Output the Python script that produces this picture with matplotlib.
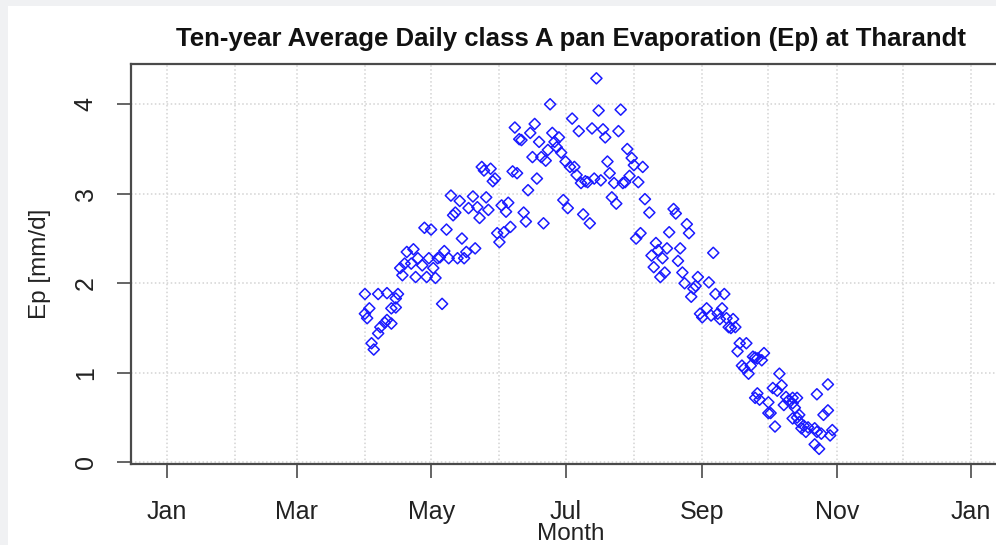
import numpy as np
import pandas as pd
import matplotlib
matplotlib.use("Agg")
import matplotlib.pyplot as plt
import matplotlib.dates as mdates
from matplotlib.patches import Rectangle

title = "Ten-year Average Daily class A pan Evaporation (Ep) at Tharandt"
x_label = "Month"
y_label = "Ep [mm/d]"
year_start = "2001-01-01"
y_ticks = [0, 1, 2, 3, 4]
x_tick_months = [1, 3, 5, 7, 9, 11]

# day of year (0 = 1 Jan) and ten-year average daily pan evaporation (mm/d)
day_of_year = [
    90, 90, 91, 92, 93, 94, 96, 96, 97, 99, 100, 100, 102, 102, 104, 104, 105,
    106, 107, 108, 109, 111, 112, 113, 114, 116, 117, 118, 119, 120, 121, 122,
    123, 124, 125, 126, 127, 128, 129, 130, 131, 132, 133, 134, 135, 136, 137,
    139, 140, 141, 142, 143, 144, 145, 146, 147, 148, 149, 150, 151, 152, 153,
    154, 155, 156, 157, 158, 159, 160, 161, 162, 163, 164, 165, 166, 167, 168,
    169, 170, 171, 172, 173, 174, 175, 176, 177, 178, 179, 180, 181, 182, 183,
    184, 185, 186, 187, 188, 189, 190, 191, 192, 193, 194, 195, 196, 197, 198,
    199, 200, 201, 202, 203, 204, 205, 206, 207, 208, 209, 210, 211, 212, 213,
    214, 215, 216, 217, 219, 220, 221, 222, 223, 224, 225, 226, 227, 228, 230,
    231, 232, 233, 234, 235, 236, 237, 238, 239, 240, 241, 242, 243, 245, 246,
    247, 248, 249, 250, 251, 252, 253, 254, 255, 256, 257, 258, 259, 260, 261,
    262, 263, 264, 265, 266, 267, 267, 268, 268, 269, 270, 271, 273, 273, 274,
    275, 276, 277, 278, 279, 280, 281, 282, 284, 284, 284, 285, 286, 286, 287,
    287, 288, 289, 290, 291, 294, 294, 295, 295, 296, 297, 298, 300, 300, 301,
    302,
]
ep_mm_per_day = [
    1.88, 1.66, 1.61, 1.72, 1.33, 1.26, 1.88, 1.44, 1.51, 1.56, 1.89, 1.59, 1.72, 1.55, 1.83, 1.73, 1.88,
    2.17, 2.09, 2.22, 2.35, 2.22, 2.38, 2.07, 2.28, 2.20, 2.62, 2.07, 2.28, 2.60, 2.17, 2.06,
    2.28, 2.29, 1.77, 2.36, 2.60, 2.28, 2.98, 2.76, 2.79, 2.28, 2.92, 2.50, 2.28, 2.35, 2.84,
    2.97, 2.39, 2.85, 2.73, 3.30, 3.26, 2.96, 2.82, 3.28, 3.14, 3.17, 2.56, 2.46, 2.87, 2.57,
    2.80, 2.90, 2.63, 3.25, 3.74, 3.23, 3.61, 3.60, 2.79, 2.69, 3.04, 3.68, 3.41, 3.78, 3.17,
    3.58, 3.41, 2.67, 3.37, 3.49, 4.00, 3.68, 3.58, 3.52, 3.63, 3.46, 2.93, 3.36, 2.84, 3.30,
    3.84, 3.30, 3.21, 3.70, 3.12, 2.77, 3.14, 3.13, 2.67, 3.73, 3.17, 4.29, 3.93, 3.15, 3.72,
    3.63, 3.36, 3.23, 2.96, 3.12, 2.89, 3.70, 3.94, 3.12, 3.13, 3.50, 3.20, 3.40, 3.32, 2.50,
    3.13, 2.56, 3.30, 2.94, 2.79, 2.31, 2.18, 2.45, 2.37, 2.07, 2.28, 2.12, 2.39, 2.57, 2.83,
    2.78, 2.25, 2.39, 2.12, 2.00, 2.66, 2.56, 1.85, 1.94, 1.97, 2.07, 1.66, 1.62, 1.72, 2.01,
    1.64, 2.34, 1.88, 1.66, 1.60, 1.72, 1.88, 1.61, 1.51, 1.50, 1.60, 1.51, 1.24, 1.33, 1.08,
    1.05, 1.33, 0.99, 1.08, 1.18, 0.72, 1.17, 0.77, 1.16, 0.70, 1.14, 1.22, 0.67, 0.55, 0.55,
    0.83, 0.40, 0.80, 0.99, 0.86, 0.64, 0.73, 0.69, 0.72, 0.49, 0.66, 0.61, 0.50, 0.72, 0.53,
    0.45, 0.38, 0.41, 0.34, 0.39, 0.38, 0.20, 0.76, 0.34, 0.15, 0.32, 0.53, 0.87, 0.58, 0.30,
    0.36,
]

plt.rcParams["font.family"] = ["Liberation Sans", "DejaVu Sans"]

W, H = 996, 545
fig = plt.figure(figsize=(W / 100, H / 100), dpi=100)
fig.patch.set_facecolor("#f0f1f3")
fig.add_artist(Rectangle((8 / W, 0), 1, 1 - 6 / H, transform=fig.transFigure,
                         facecolor="white", edgecolor="none", zorder=0))

left_px, right_px, top_px, bottom_px = 131, 1010, 64, 464
ax = fig.add_axes([left_px / W, 1 - bottom_px / H,
                   (right_px - left_px) / W, (bottom_px - top_px) / H])
ax.set_facecolor("white")

t0 = pd.Timestamp(year_start)
dates = t0 + pd.to_timedelta(day_of_year, unit="D")

ax.scatter(dates, ep_mm_per_day, marker="D", s=32, facecolors="none",
           edgecolors="#1a1aff", linewidths=1.1, zorder=3)

px_per_day = 2.2047
jan_px = 166.5
ax.set_xlim(t0 - pd.Timedelta(days=(jan_px - left_px) / px_per_day),
            t0 + pd.Timedelta(days=(right_px - jan_px) / px_per_day))
ax.set_ylim(-0.019, 4.45)

ax.xaxis.set_major_locator(mdates.MonthLocator(bymonth=x_tick_months))
ax.xaxis.set_major_formatter(mdates.DateFormatter("%b"))
ax.xaxis.set_minor_locator(mdates.MonthLocator())
ax.set_yticks(y_ticks)

grid_kw = dict(color="#d3d3d3", linestyle=(0, (1, 1.6)), linewidth=1.1)
ax.grid(True, axis="x", which="both", **grid_kw)
ax.grid(True, axis="y", which="major", **grid_kw)
ax.set_axisbelow(True)

for s in ax.spines.values():
    s.set_color("#4a4a4a")
    s.set_linewidth(1.6)

ax.tick_params(axis="both", which="major", length=10, width=1.2, color="#4a4a4a",
               labelsize=18, labelcolor="#222222", pad=14)
ax.tick_params(axis="x", which="major", pad=16)
ax.tick_params(axis="x", which="minor", length=0)
ax.tick_params(axis="y", labelrotation=90)
for lab in ax.get_yticklabels():
    lab.set_va("center")

ax.set_title(title, fontsize=18.5, fontweight="bold", color="#111111", pad=13)
ax.set_xlabel(x_label, fontsize=17.5, color="#222222", labelpad=-1)
ax.set_ylabel(y_label, fontsize=17.5, color="#222222", labelpad=16)

fig.savefig("out.png", dpi=100, facecolor=fig.get_facecolor())
